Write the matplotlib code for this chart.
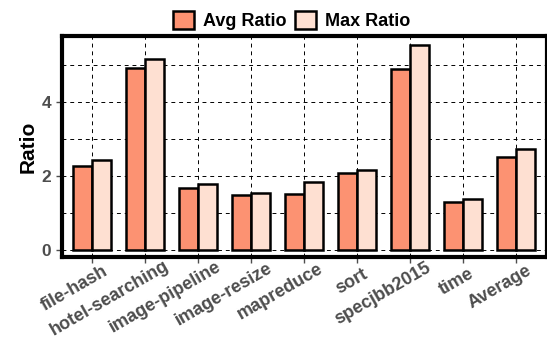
import numpy as np
import matplotlib
matplotlib.use('Agg')
import matplotlib.pyplot as plt
from matplotlib.ticker import MultipleLocator
from matplotlib.transforms import offset_copy

plt.rcParams['font.family'] = ['Liberation Sans', 'DejaVu Sans']
plt.rcParams['font.weight'] = 'bold'

# benchmark names and ratios
benchmarks = ['file-hash', 'hotel-searching', 'image-pipeline', 'image-resize',
              'mapreduce', 'sort', 'specjbb2015', 'time', 'Average']
avg_ratio = [2.26, 4.91, 1.66, 1.47, 1.51, 2.06, 4.89, 1.29, 2.51]
max_ratio = [2.41, 5.16, 1.78, 1.53, 1.82, 2.14, 5.52, 1.37, 2.72]

fig = plt.figure(figsize=(5.47, 3.46), dpi=100)
ax = fig.add_axes([0.113, 0.257, 0.887, 0.639])

x = np.arange(len(benchmarks))
w = 0.36
ax.bar(x - w / 2, avg_ratio, w, color='#FC9272', edgecolor='black', linewidth=1.8,
       label='Avg Ratio', zorder=3)
ax.bar(x + w / 2, max_ratio, w, color='#FEE0D2', edgecolor='black', linewidth=1.8,
       label='Max Ratio', zorder=3)

ax.set_xlim(-0.575, 8.58)
ax.set_ylim(-0.2, 5.77)
ax.yaxis.set_major_locator(MultipleLocator(2))
ax.yaxis.set_minor_locator(MultipleLocator(1))
ax.grid(True, which='both', axis='y', color='black', linestyle=(0, (4, 4)), linewidth=0.7, zorder=0)
ax.grid(True, which='major', axis='x', color='black', linestyle=(0, (4, 4)), linewidth=0.7, zorder=0)
ax.tick_params(axis='y', which='minor', length=0)

ax.set_xticks(x)
ax.set_xticklabels(benchmarks, rotation=30, ha='right', va='top', rotation_mode='anchor')
ax.tick_params(axis='both', colors='#4d4d4d', length=4, width=1)
ax.tick_params(axis='y', labelsize=12.5)
ax.tick_params(axis='x', labelsize=13, pad=4)
for lab in ax.get_xticklabels() + ax.get_yticklabels():
    lab.set_fontweight('bold')
    lab.set_color('#4d4d4d')

ax.set_ylabel('Ratio', fontsize=15, fontweight='bold', labelpad=3)
for s in ax.spines.values():
    s.set_linewidth(3)

# shift rotated labels so the anchor sits ~84% along the text, like the original
fig.canvas.draw()
renderer = fig.canvas.get_renderer()
ang = np.deg2rad(30)
for lab in ax.get_xticklabels():
    tw, th, td = renderer.get_text_width_height_descent(lab.get_text(), lab.get_fontproperties(), ismath=False)
    d = 0.16 * tw
    lab.set_transform(offset_copy(lab.get_transform(), fig=fig, x=d * np.cos(ang), y=d * np.sin(ang), units='dots'))

fig.legend(loc='upper center', bbox_to_anchor=(0.533, 1.015), ncol=2, frameon=False,
           prop={'weight': 'bold', 'size': 13}, handlelength=1.15, handleheight=1.15,
           columnspacing=0.45, handletextpad=0.5)
for p in fig.legends[0].get_patches():
    p.set_linewidth(1.8)

fig.savefig('out.png', dpi=100)
